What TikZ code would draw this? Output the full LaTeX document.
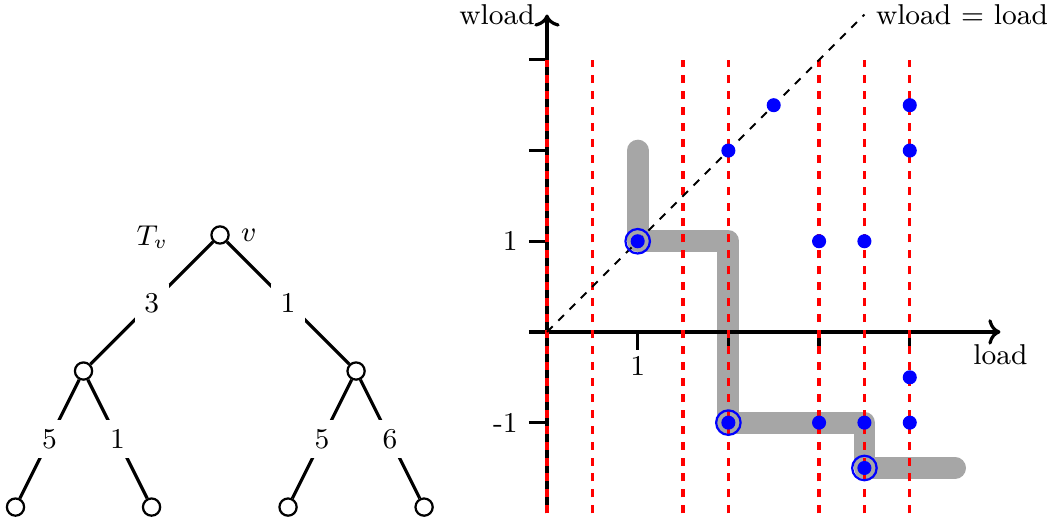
\documentclass[tikz,border=0pt]{standalone}
\usetikzlibrary{arrows.meta}
\begin{document}
\begin{tikzpicture}[x=1cm,y=1cm,font=\fontsize{9}{11}\selectfont,
  tnode/.style={circle,draw,line width=0.7pt,fill=white,minimum size=0.19cm,inner sep=0pt},
  tedge/.style={line width=1pt},
  elabel/.style={fill=white,inner sep=3pt},
  axisline/.style={line width=1pt},
  tickline/.style={line width=1pt},
  redline/.style={red,line width=1pt,dash pattern=on 2.5pt off 2.5pt},
  diag/.style={line width=0.6pt,dash pattern=on 2.5pt off 2.5pt},
  graypath/.style={gray!70,line width=0.24cm,line cap=round,line join=round},
  bdot/.style={circle,fill=blue,minimum size=0.155cm,inner sep=0pt},
  bring/.style={circle,draw=blue,line width=0.7pt,minimum size=0.27cm,inner sep=0pt}
]
\useasboundingbox (-6.031,-2.073) rectangle (5.535,3.660);

% ---------- tree ----------
\node[tnode] (r) at (-3.605,1.069) {};
\node[tnode] (a) at (-5.11,-0.431) {};
\node[tnode] (b) at (-2.105,-0.431) {};
\node[tnode] (a1) at (-5.86,-1.931) {};
\node[tnode] (a2) at (-4.36,-1.931) {};
\node[tnode] (b1) at (-2.855,-1.931) {};
\node[tnode] (b2) at (-1.355,-1.931) {};
\node (tv) at (-4.35,1.045) {$T_v$};
\node[anchor=west] (vl) at (r.east) {$v$};

\draw[tedge] (r) -- node[elabel] (l3) {3} (a);
\draw[tedge] (r) -- node[elabel] (l1) {1} (b);
\draw[tedge] (a) -- node[elabel] (l5a) {5} (a1);
\draw[tedge] (a) -- node[elabel] (l1a) {1} (a2);
\draw[tedge] (b) -- node[elabel] (l5b) {5} (b1);
\draw[tedge] (b) -- node[elabel] (l6b) {6} (b2);

% ---------- plot ----------
\draw[graypath] (1,2) -- (1,1) -- (2,1) -- (2,-1) -- (3.5,-1) -- (3.5,-1.5) -- (4.5,-1.5);

\coordinate (xs) at (-0.2,0);
\coordinate (xe) at (5,0);
\coordinate (ys) at (0,-2);
\coordinate (ye) at (0,3.5);
\draw[axisline,->] (xs) -- (xe) node[below] (xlab) {load};
\draw[axisline,->] (ys) -- (ye) node[left] (ylab) {wload};

\foreach \y in {3,2,1,-1} \draw[tickline] (-0.2,\y) -- (0,\y);
\foreach \x in {1,2,3,4} \draw[tickline] (\x,0) -- (\x,-0.2);
\node (x1) at (1,-0.375) {1};
\node[anchor=east] (y1) at (-0.2,1) {1};
\node[anchor=east] (ym1) at (-0.2,-1) {-1};

\foreach \x in {0,0.5,1.5,2,3,3.5,4} \draw[redline] (\x,-2) -- (\x,3);

\coordinate (o) at (0,0);
\coordinate (de) at (3.5,3.5);
\draw[diag] (o) -- (de) node[right] (dlab) {wload $=$ load};

\foreach \p/\q in {1/1,2/2,2.5/2.5,3/1,3.5/1,4/2.5,4/2,4/-0.5,2/-1,3/-1,3.5/-1,4/-1,3.5/-1.5}
  \node[bdot] at (\p,\q) {};
\foreach \p/\q in {1/1,2/-1,3.5/-1.5}
  \node[bring] at (\p,\q) {};
\end{tikzpicture}
\end{document}
